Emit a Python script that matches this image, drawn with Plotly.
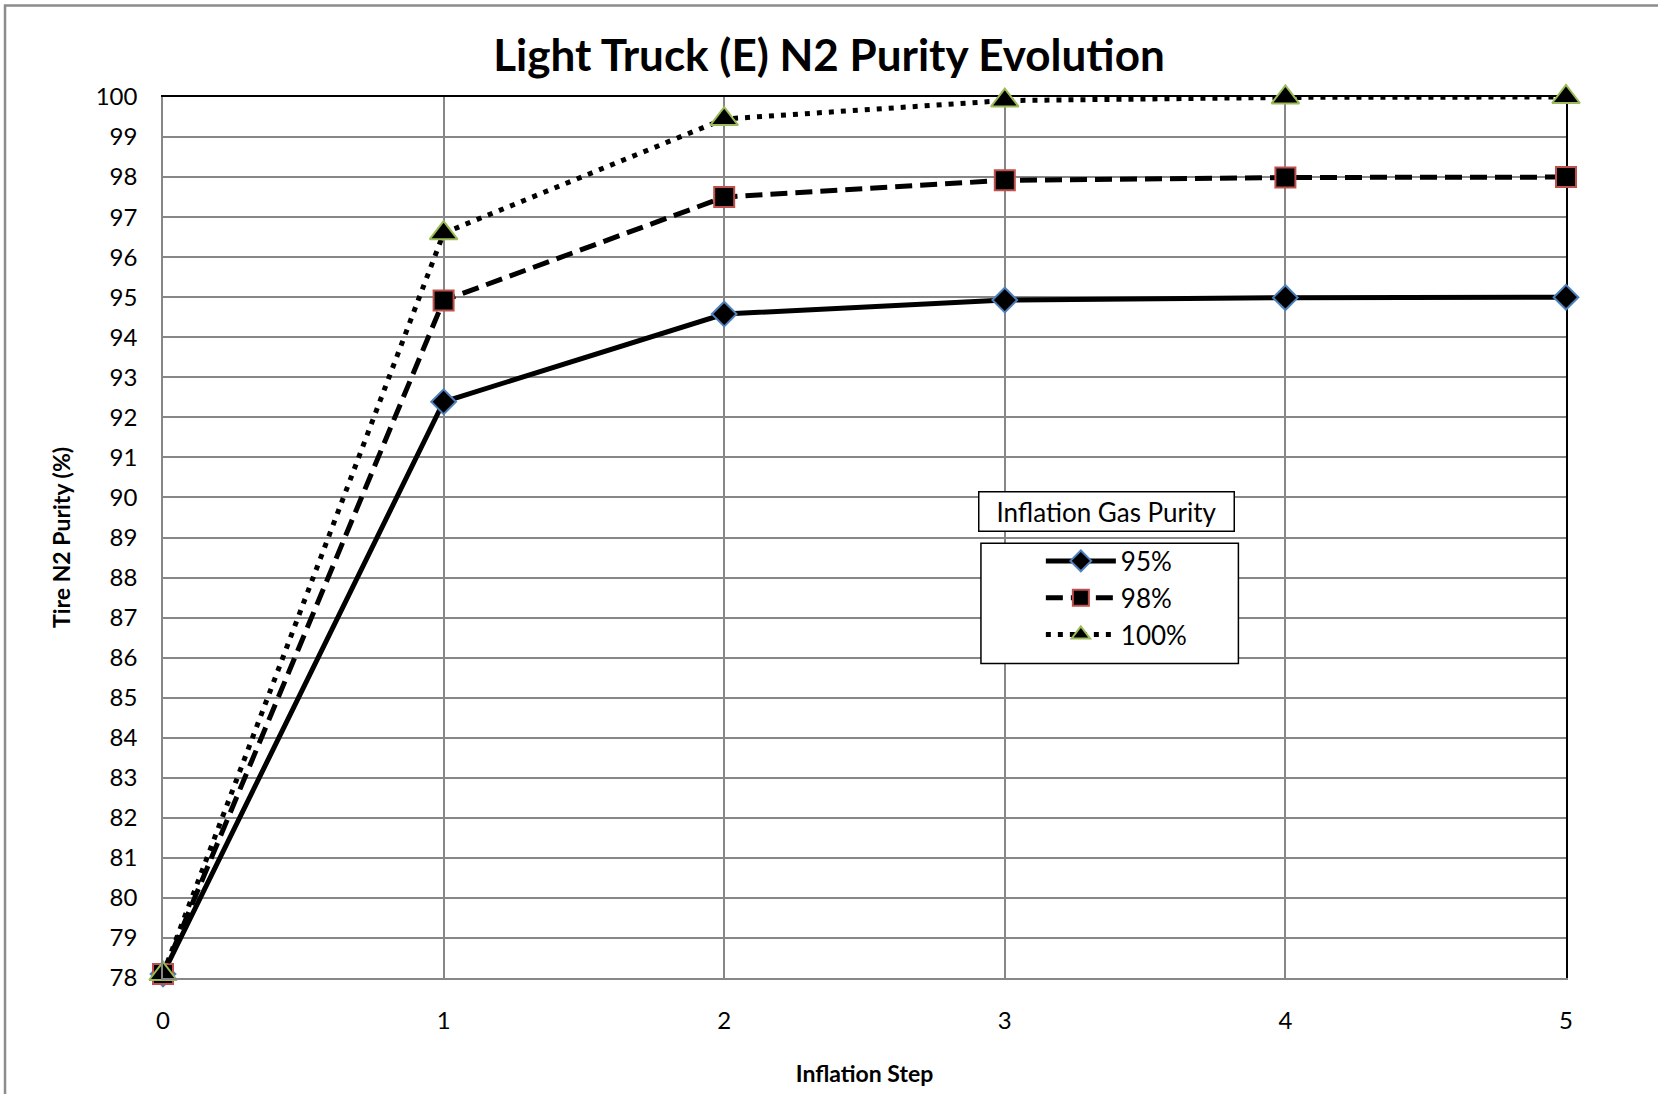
import plotly.graph_objects as go

steps = [0, 1, 2, 3, 4, 5]
purity_95 = [78.1, 92.39, 94.58, 94.93, 94.99, 95.0]
purity_98 = [78.1, 94.92, 97.50, 97.92, 97.99, 98.0]
purity_100 = [78.1, 96.60, 99.45, 99.91, 99.99, 100.0]
series_names = ["95%", "98%", "100%"]
legend_title = "Inflation Gas Purity"
chart_title = "Light Truck (E) N2 Purity Evolution"
x_title = "Inflation Step"
y_title = "Tire N2 Purity (%)"

FONT = "Lato"
GRID = "#878787"

fig = go.Figure()

fig.add_trace(go.Scatter(
    x=steps, y=purity_95, name=series_names[0], mode="lines+markers",
    line=dict(color="black", width=5),
    marker=dict(symbol="diamond", size=19, color="black",
                line=dict(color="#4F81BD", width=2)),
    cliponaxis=False, legendgroup="a"))
fig.add_trace(go.Scatter(
    x=steps, y=purity_98, name=series_names[1], mode="lines+markers",
    line=dict(color="black", width=5, dash="17px,8px"),
    marker=dict(symbol="square", size=20, color="black",
                line=dict(color="#C0504D", width=2)),
    cliponaxis=False, legendgroup="b"))
fig.add_trace(go.Scatter(
    x=steps, y=purity_100, name=series_names[2], mode="lines+markers",
    line=dict(color="black", width=5, dash="5px,7px"),
    marker=dict(symbol="triangle-up", size=24, color="black",
                line=dict(color="#9BBB59", width=2)),
    cliponaxis=False, legendgroup="c"))

# empty trace that carries the black top/right frame axes
fig.add_trace(go.Scatter(x=[], y=[], xaxis="x2", yaxis="y2",
                         showlegend=False, hoverinfo="skip"))

# outer chart border
fig.add_shape(type="rect", xref="paper", yref="paper",
              x0=-0.1126, x1=1.08, y0=-0.15, y1=1.104,
              line=dict(color="#8C8C8C", width=2.5), layer="below")

# legend frames
fig.add_shape(type="rect", xref="paper", yref="paper",
              x0=0.583, x1=0.7665, y0=0.357, y1=0.4934,
              line=dict(color="black", width=1.5), fillcolor="white", layer="above")
fig.add_annotation(text=legend_title, xref="paper", yref="paper",
                   x=0.6725, y=0.530, xanchor="center", yanchor="middle",
                   showarrow=False, font=dict(family=FONT, size=26, color="black"),
                   bordercolor="black", borderwidth=1.5, bgcolor="white",
                   width=252, height=36)

fig.update_layout(
    width=1658, height=1094,
    paper_bgcolor="white", plot_bgcolor="white",
    margin=dict(l=163, r=92, t=97, b=116),
    font=dict(family=FONT, color="black"),
    title=dict(text="<b>" + chart_title + "</b>", x=0.5, xanchor="center",
               y=1 - 56 / 1094, yanchor="middle", yref="container",
               font=dict(family=FONT, size=44, color="black")),
    showlegend=True,
    legend=dict(x=0.6257, y=0.50, xanchor="left", yanchor="top",
                bgcolor="rgba(0,0,0,0)", borderwidth=0,
                font=dict(family=FONT, size=26, color="black"),
                itemwidth=70, tracegroupgap=14, traceorder="normal"),
    xaxis=dict(
        range=[0, 5], dtick=1, tick0=0,
        showgrid=True, gridcolor=GRID, gridwidth=1.5,
        showline=True, linecolor=GRID, linewidth=1.5,
        zeroline=False, ticks="", ticklabelstandoff=20,
        tickfont=dict(family=FONT, size=24, color="black"),
        title=dict(text="<b>" + x_title + "</b>", standoff=33,
                   font=dict(family=FONT, size=23, color="black")),
    ),
    yaxis=dict(
        range=[78, 100], dtick=1, tick0=78,
        showgrid=True, gridcolor=GRID, gridwidth=1.5,
        showline=True, linecolor=GRID, linewidth=1.5,
        zeroline=False, ticks="", ticklabelstandoff=19,
        tickfont=dict(family=FONT, size=24, color="black"),
        title=dict(text="<b>" + y_title + "</b>", standoff=19,
                   font=dict(family=FONT, size=23, color="black")),
    ),
    xaxis2=dict(overlaying="x", side="top", range=[0, 5], showline=True,
                linecolor="black", linewidth=2, showgrid=False, zeroline=False,
                showticklabels=False, ticks="", layer="below traces"),
    yaxis2=dict(overlaying="y", side="right", range=[78, 100], showline=True,
                linecolor="black", linewidth=2, showgrid=False, zeroline=False,
                showticklabels=False, ticks="", layer="below traces"),
)

fig.write_html("out.html", config={"displayModeBar": False},
               post_script="document.body.style.margin='0';")
